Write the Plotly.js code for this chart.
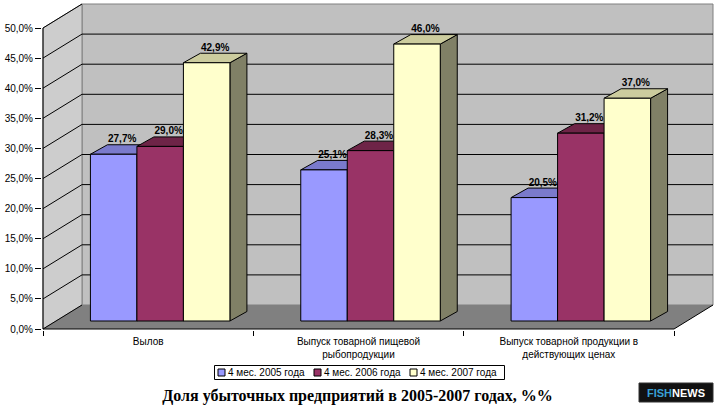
<!DOCTYPE html>
<html><head><meta charset="utf-8">
<script src="https://cdn.plot.ly/plotly-3.0.1.min.js"></script>
<style>html,body{margin:0;padding:0;background:#fff}#chart{width:723px;height:412px}</style>
</head><body><div id="chart"></div>
<script>
// ---- data ----
const categories = ['Вылов', 'Выпуск товарной пищевой<br>рыбопродукции', 'Выпуск товарной продукции в<br>действующих ценах'];
const seriesNames = ['4 мес. 2005 года', '4 мес. 2006 года', '4 мес. 2007 года'];
const v2005 = [27.7, 25.1, 20.5];
const v2006 = [29.0, 28.3, 31.2];
const v2007 = [42.9, 46.0, 37.0];
const yTickVals = [0, 5, 10, 15, 20, 25, 30, 35, 40, 45, 50];
const chartTitle = 'Доля убыточных предприятий в 2005-2007 годах, %%';

// ---- styles / geometry (pixels) ----
const seriesValues = [v2005, v2006, v2007];
const frontColors = ['#9999ff', '#993366', '#ffffcc'];
const topColors = ['#7a7acc', '#6e2447', '#cccc9e'];
const sideColors = ['#6b6bb3', '#5c1e3d', '#808066'];
const W = 723, H = 412;
const PXC = 210.33, PXP = 6.02;           // px per category, px per percent
const WALL_DX = 39, WALL_DY = 24;          // back wall offset
const SHIFT_DX = 12, SHIFT_DY = 8;         // bar front plane offset
const DEPTH_DX = 17, DEPTH_DY = 9.5;       // bar depth
const BAR_PX = 46.5;
const BARGAP = 1 - 3 * BAR_PX / PXC;
const ML = 42, MT = 3;
const yTop = yTickVals[yTickVals.length - 1];

const xr = [-0.5 - 1 / PXC, 2.5 + (WALL_DX + 2) / PXC];
const yr = [-1 / PXP, yTop + (WALL_DY + 1) / PXP];
const plotW = (xr[1] - xr[0]) * PXC;
const plotH = (yr[1] - yr[0]) * PXP;
const MR = W - ML - plotW, MB = H - MT - plotH;

const wxU = WALL_DX / PXC, wyU = WALL_DY / PXP;
const sxU = SHIFT_DX / PXC, syU = SHIFT_DY / PXP;
const dxU = DEPTH_DX / PXC, dyU = DEPTH_DY / PXP;
const barW = (1 - BARGAP) / 3;

const paperX = px => (px - ML) / plotW;
const paperY = py => (MT + plotH - py) / plotH;
const fmt = v => v.toFixed(1).replace('.', ',') + '%';

const traces = [];
// side & top faces (main axes, below the front faces)
seriesValues.forEach((vals, s) => {
  const sx = [], sy = [], tx = [], ty = [];
  vals.forEach((v, j) => {
    const L = j - (1 - BARGAP) / 2 + s * barW + sxU;
    const R = L + barW;
    const vt = v + syU;
    sx.push(R, R, R + dxU, R + dxU, R, null);
    sy.push(syU, vt, vt + dyU, syU + dyU, syU, null);
    tx.push(L, R, R + dxU, L + dxU, L, null);
    ty.push(vt, vt, vt + dyU, vt + dyU, vt, null);
  });
  traces.push({type: 'scatter', mode: 'lines', x: sx, y: sy, fill: 'toself', fillcolor: sideColors[s],
    line: {color: '#000', width: 1}, showlegend: false, hoverinfo: 'skip', xaxis: 'x', yaxis: 'y'});
  traces.push({type: 'scatter', mode: 'lines', x: tx, y: ty, fill: 'toself', fillcolor: topColors[s],
    line: {color: '#000', width: 1}, showlegend: false, hoverinfo: 'skip', xaxis: 'x', yaxis: 'y'});
});
// front faces (overlay axes shifted into the bar plane)
seriesValues.forEach((vals, s) => {
  traces.push({type: 'bar', name: seriesNames[s], x: [0, 1, 2], y: vals, xaxis: 'x2', yaxis: 'y2',
    marker: {color: frontColors[s], line: {color: '#000', width: 1}}, hoverinfo: 'skip', showlegend: false});
});
// value labels
const lx = [], ly = [], lt = [];
seriesValues.forEach((vals, s) => vals.forEach((v, j) => {
  lx.push(j - (1 - BARGAP) / 2 + (s + 0.5) * barW + dxU / 2);
  ly.push(v + dyU);
  lt.push(fmt(v));
}));
traces.push({type: 'scatter', mode: 'text', x: lx, y: ly, text: lt, textposition: 'top center',
  textfont: {family: 'Liberation Sans, Arial', size: 10, color: '#000', weight: 'bold'},
  showlegend: false, hoverinfo: 'skip', xaxis: 'x2', yaxis: 'y2', cliponaxis: false});

// walls, floor, gridlines
const X0 = -0.5, X1 = 2.5;
const shapes = [];
shapes.push({type: 'rect', layer: 'below', xref: 'x', yref: 'y', x0: X0 + wxU, x1: X1 + wxU, y0: wyU, y1: yTop + wyU,
  fillcolor: '#c0c0c0', line: {color: '#808080', width: 1}});
shapes.push({type: 'path', layer: 'below', xref: 'x', yref: 'y',
  path: `M${X0},0 L${X0 + wxU},${wyU} L${X0 + wxU},${yTop + wyU} L${X0},${yTop} Z`,
  fillcolor: '#cdcdcd', line: {color: '#808080', width: 1}});
shapes.push({type: 'path', layer: 'below', xref: 'x', yref: 'y',
  path: `M${X0},0 L${X1},0 L${X1 + wxU},${wyU} L${X0 + wxU},${wyU} Z`,
  fillcolor: '#808080', line: {width: 0}});
yTickVals.forEach(v => {
  if (v > 0 && v < yTop) shapes.push({type: 'line', layer: 'below', xref: 'x', yref: 'y',
    x0: X0 + wxU, x1: X1 + wxU, y0: v + wyU, y1: v + wyU, line: {color: '#000', width: 1}});
  shapes.push({type: 'line', layer: 'below', xref: 'x', yref: 'y',
    x0: X0, x1: X0 + wxU, y0: v, y1: v + wyU, line: {color: '#000', width: 1}});
});
shapes.push({type: 'line', layer: 'below', xref: 'x', yref: 'y', x0: X0, x1: X1, y0: 0, y1: 0, line: {color: '#000', width: 1}});
shapes.push({type: 'line', layer: 'below', xref: 'x', yref: 'y', x0: X1, x1: X1 + wxU, y0: 0, y1: wyU, line: {color: '#000', width: 1}});
shapes.push({type: 'line', layer: 'below', xref: 'x', yref: 'y', x0: X0, x1: X0, y0: 0, y1: yTop, line: {color: '#000', width: 1}});

// legend box (drawn as shapes + text)
const annotations = [];
shapes.push({type: 'rect', xref: 'paper', yref: 'paper', x0: paperX(214.5), x1: paperX(504.5), y0: paperY(379.5), y1: paperY(365.5),
  fillcolor: '#fff', line: {color: '#000', width: 1}});
const legendLeft = [218, 314, 410];
seriesNames.forEach((nm, s) => {
  const x0 = legendLeft[s];
  shapes.push({type: 'rect', xref: 'paper', yref: 'paper', x0: paperX(x0), x1: paperX(x0 + 7), y0: paperY(376), y1: paperY(369),
    fillcolor: frontColors[s], line: {color: '#000', width: 1}});
  annotations.push({xref: 'paper', yref: 'paper', x: paperX(x0 + 8.5), y: paperY(372.5), xanchor: 'left', yanchor: 'middle',
    text: nm, showarrow: false, font: {family: 'Liberation Sans, Arial', size: 10, color: '#000'}, borderpad: 0});
});

// logo box
const lx0 = paperX(639), lx1 = paperX(713), ly0 = paperY(402), ly1 = paperY(383);
shapes.push({type: 'rect', xref: 'paper', yref: 'paper', x0: lx0, x1: lx1, y0: ly0, y1: ly1,
  fillcolor: '#111', line: {color: '#333', width: 1}});
annotations.push({xref: 'paper', yref: 'paper', x: (lx0 + lx1) / 2, y: (ly0 + ly1) / 2, xanchor: 'center', yanchor: 'middle',
  text: "<b><span style='color:#39a0d4'>FISH</span>NEWS</b>", showarrow: false,
  font: {family: 'Liberation Sans, Arial', size: 11, color: '#fff'}});

const layout = {
  width: W, height: H,
  margin: {l: ML, r: MR, t: MT, b: MB, pad: 0},
  paper_bgcolor: '#fff', plot_bgcolor: 'rgba(0,0,0,0)',
  separators: ', ',
  font: {family: 'Liberation Sans, Arial', size: 10, color: '#000'},
  barmode: 'group', bargap: BARGAP, bargroupgap: 0,
  showlegend: false,
  xaxis: {type: 'linear', range: xr, tickmode: 'array', tickvals: [0, 1, 2], ticktext: categories,
    ticks: '', showgrid: false, zeroline: false, showline: false, fixedrange: true, ticklabelstandoff: 4,
    tickfont: {size: 10, family: 'Liberation Sans, Arial'},
    minor: {tickmode: 'array', tickvals: [-0.5, 0.5, 1.5, 2.5], ticks: 'outside', ticklen: 5, tickcolor: '#000', tickwidth: 1, showgrid: false}},
  yaxis: {type: 'linear', range: yr, tickmode: 'array', tickvals: yTickVals, ticktext: yTickVals.map(fmt),
    ticks: 'outside', ticklen: 6, tickcolor: '#000', showgrid: false, zeroline: false, showline: false,
    tickfont: {size: 10, family: 'Liberation Sans, Arial'}},
  xaxis2: {type: 'linear', overlaying: 'x', range: [xr[0] - sxU, xr[1] - sxU], visible: false, anchor: 'y2'},
  yaxis2: {type: 'linear', overlaying: 'y', range: [yr[0] - syU, yr[1] - syU], visible: false, anchor: 'x2'},
  title: {text: '<b>' + chartTitle + '</b>', x: 357.5 / W, xref: 'container', xanchor: 'center',
    y: 1 - 395 / H, yref: 'container', yanchor: 'middle',
    font: {family: 'Liberation Serif, Times New Roman', size: 16, color: '#000'}},
  shapes: shapes,
  annotations: annotations
};

Plotly.newPlot('chart', traces, layout, {staticPlot: true, displayModeBar: false});
</script></body></html>
